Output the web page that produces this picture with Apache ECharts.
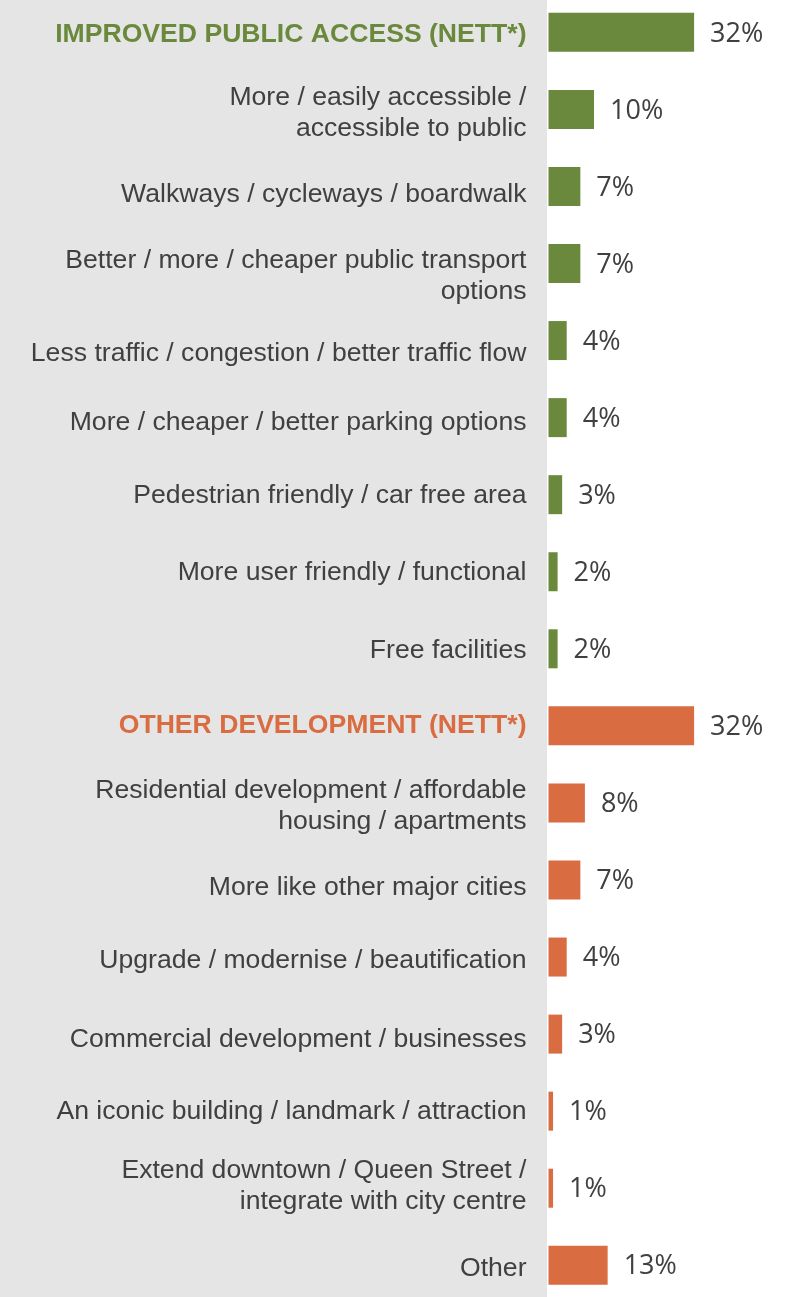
<!DOCTYPE html>
<html>
<head>
<meta charset="utf-8">
<style>
  html, body { margin: 0; padding: 0; background: #ffffff; }
  #chart { width: 794px; height: 1297px; }
</style>
<script src="https://cdn.jsdelivr.net/npm/echarts@6/dist/echarts.min.js"></script>
</head>
<body>
<div id="chart"></div>
<script>
// Suggested improvements, grouped into two nett categories
const categories = [
  'IMPROVED PUBLIC ACCESS (NETT*)',
  'More / easily accessible /\naccessible to public',
  'Walkways / cycleways / boardwalk',
  'Better / more / cheaper public transport\noptions',
  'Less traffic / congestion / better traffic flow',
  'More / cheaper / better parking options',
  'Pedestrian friendly / car free area',
  'More user friendly / functional',
  'Free facilities',
  'OTHER DEVELOPMENT (NETT*)',
  'Residential development / affordable\nhousing / apartments',
  'More like other major cities',
  'Upgrade / modernise / beautification',
  'Commercial development / businesses',
  'An iconic building / landmark / attraction',
  'Extend downtown / Queen Street /\nintegrate with city centre',
  'Other'
];
const values = [32, 10, 7, 7, 4, 4, 3, 2, 2, 32, 8, 7, 4, 3, 1, 1, 13];
// group of each row: 0 = public access, 1 = other development
const groups = [0, 0, 0, 0, 0, 0, 0, 0, 0, 1, 1, 1, 1, 1, 1, 1, 1];
const headerRows = [0, 9];

// vertical nudge (px, + = down) of each category label against its bar
const labelNudge = [0, 1.4, 6, 11, 11, 3, -1, -1, 0, -2.6, 1, 5.6, 1.5, 3.6, -1.6, -4, 1];
const BASE_NUDGE = 2;

const GREEN = '#6a893c';
const ORANGE = '#d96c40';
const TEXT = '#404040';
const LABEL_FONT = 'Arial, "Liberation Sans", sans-serif';

function nudgePadding(d) {
  return d >= 0 ? [2 * d, 0, 0, 0] : [0, 0, -2 * d, 0];
}

const chart = echarts.init(document.getElementById('chart'), null, { renderer: 'canvas' });

chart.setOption({
  animation: false,
  backgroundColor: '#ffffff',
  graphic: [{
    type: 'rect',
    z: -10,
    shape: { x: 0, y: 0, width: 547, height: 1297 },
    style: { fill: '#e5e5e5' },
    silent: true
  }],
  grid: {
    left: 548.5, top: -6.2, width: 227.5, height: 1310,
    containLabel: false,
    outerBoundsMode: 'none'
  },
  xAxis: {
    type: 'value', min: 0, max: 50,
    show: false
  },
  yAxis: {
    type: 'category',
    inverse: true,
    data: categories.map(function (name, i) {
      return { value: name, textStyle: { padding: nudgePadding(labelNudge[i] + BASE_NUDGE) } };
    }),
    axisLine: { show: false },
    axisTick: { show: false },
    splitLine: { show: false },
    axisLabel: {
      margin: 22,
      align: 'right',
      fontFamily: LABEL_FONT,
      fontSize: 26.6,
      lineHeight: 31,
      color: TEXT,
      formatter: function (value, index) {
        if (index === headerRows[0]) return '{g|' + value + '}';
        if (index === headerRows[1]) return '{o|' + value + '}';
        return value;
      },
      rich: {
        g: { color: GREEN, fontWeight: 'bold', fontSize: 26.6, fontFamily: LABEL_FONT },
        o: { color: ORANGE, fontWeight: 'bold', fontSize: 26.6, fontFamily: LABEL_FONT }
      }
    }
  },
  series: [{
    type: 'bar',
    barWidth: 39,
    data: values.map(function (v, i) {
      return { value: v, itemStyle: { color: groups[i] === 0 ? GREEN : ORANGE } };
    }),
    label: {
      show: true,
      position: 'right',
      distance: 16,
      offset: [0, 1.5],
      formatter: '{c}%',
      fontFamily: '"Open Sans", "Noto Sans", sans-serif',
      fontSize: 27,
      color: TEXT
    }
  }]
});
</script>
</body>
</html>
